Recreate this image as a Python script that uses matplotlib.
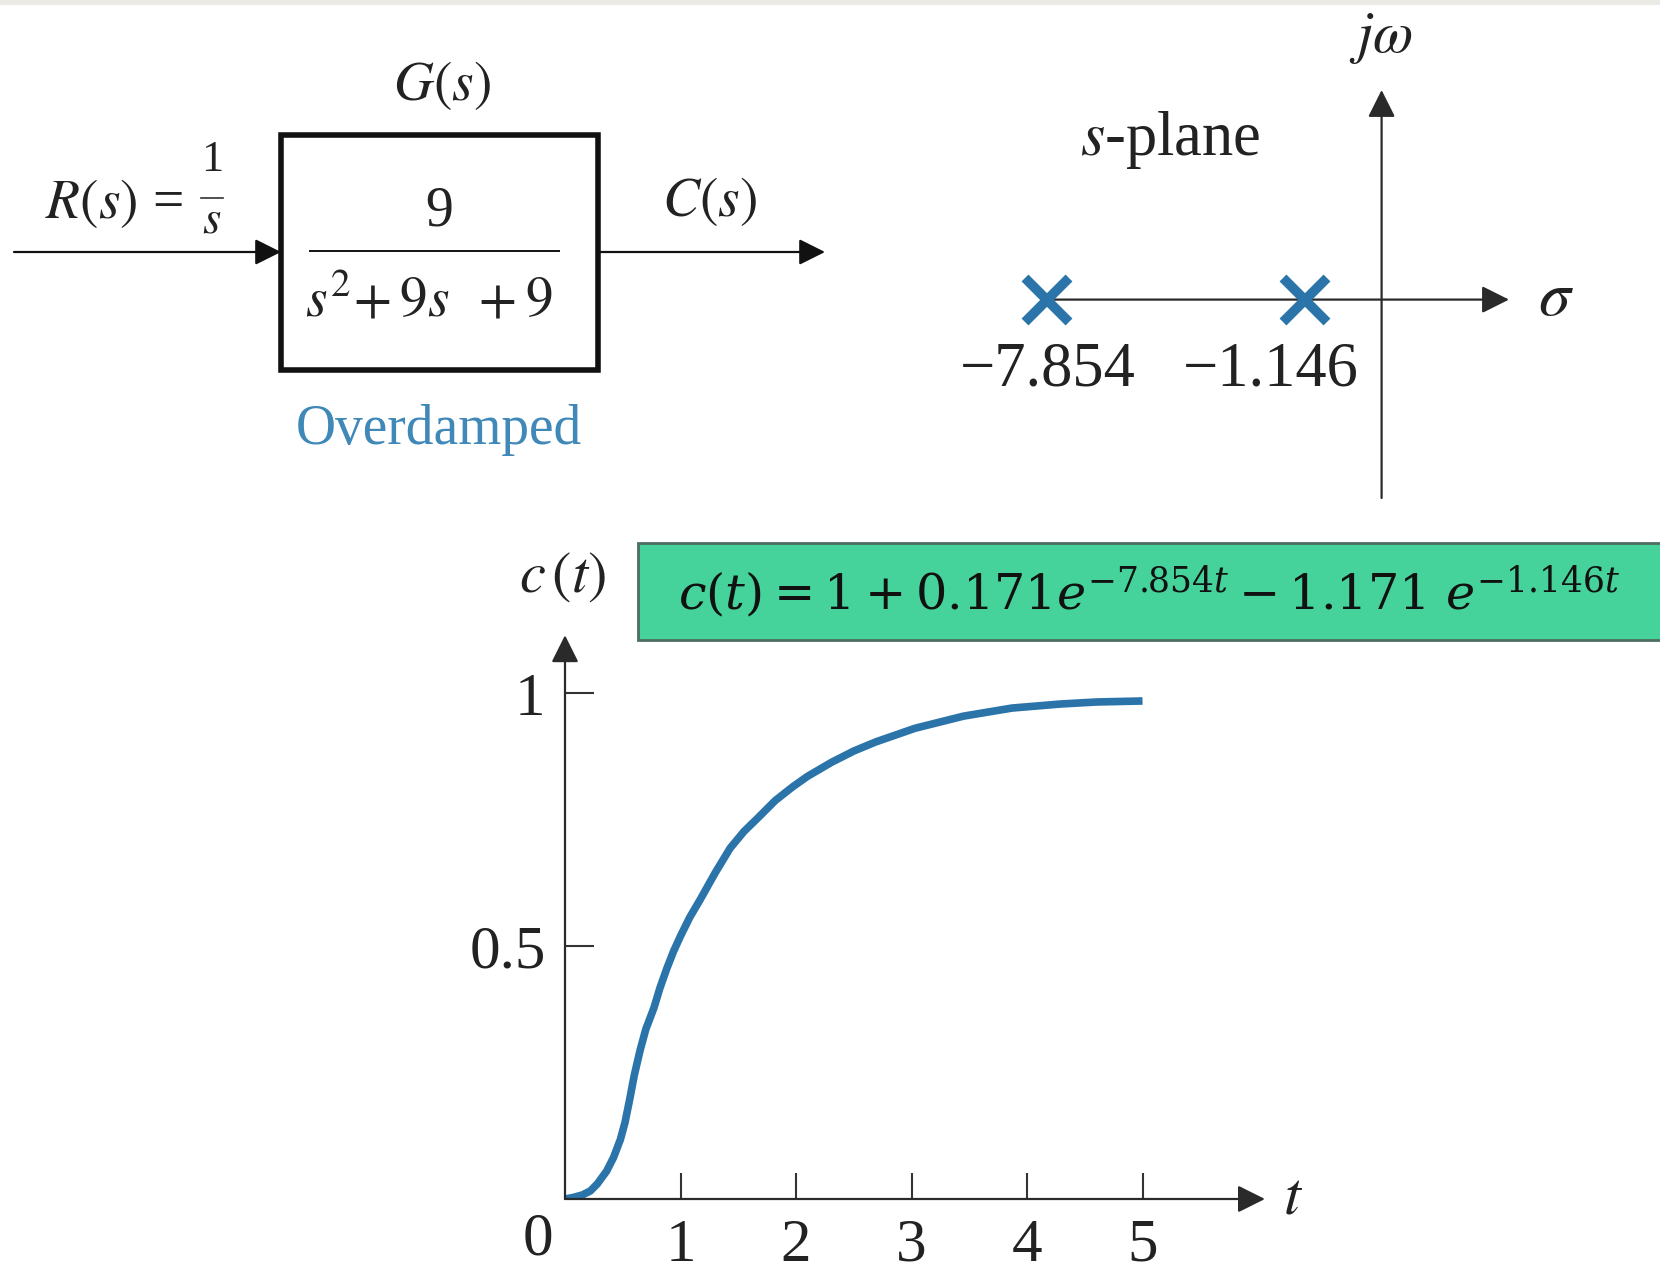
import matplotlib.pyplot as plt
from matplotlib.patches import Rectangle
import numpy as np

plt.rcParams['font.family'] = 'Liberation Serif'
plt.rcParams['mathtext.fontset'] = 'stix'

# step response
t_vals = [0, 0.07, 0.15, 0.22, 0.28, 0.36, 0.42, 0.48, 0.52, 0.56, 0.60, 0.65, 0.70,
          0.77, 0.82, 0.88, 0.94, 1.0, 1.08, 1.17, 1.3, 1.43, 1.55, 1.68, 1.82, 1.97,
          2.1, 2.31, 2.5, 2.69, 3.03, 3.45, 3.87, 4.29, 4.6, 5.0]
c_vals = [0, 0.003, 0.008, 0.016, 0.03, 0.055, 0.082, 0.118, 0.152, 0.197, 0.245, 0.294, 0.336,
          0.378, 0.416, 0.455, 0.49, 0.52, 0.557, 0.592, 0.645, 0.694, 0.727, 0.756, 0.788, 0.815,
          0.836, 0.864, 0.886, 0.904, 0.931, 0.955, 0.971, 0.979, 0.983, 0.985]
t_ticks = [1, 2, 3, 4, 5]
c_ticks = [0.5, 1]
c_ticklabels = ['0.5', '1']

# poles of G(s)
poles = [-7.854, -1.146]
pole_labels = ['\u22127.854', '\u22121.146']

W, H = 1660, 1275
blue = '#2a74aa'

fig = plt.figure(figsize=(W / 100, H / 100), dpi=100)
fig.patch.set_facecolor('white')

def box(l, t, r, b):
    # pixel box -> figure fraction
    return [l / W, (H - b) / H, (r - l) / W, (b - t) / H]

# overlay in pixel coords for the block diagram and labels
bg = fig.add_axes([0, 0, 1, 1])
bg.set_xlim(0, W)
bg.set_ylim(H, 0)
bg.axis('off')
bg.add_patch(Rectangle((0, 0), W, 5, color='#eceae4', lw=0))

# block diagram
bg.add_patch(Rectangle((281, 135), 317, 235, fill=False, lw=4, ec='#111111'))
arr = dict(arrowstyle='-|>', mutation_scale=40, lw=1.6, color='#111111', shrinkA=0, shrinkB=0)
bg.annotate('', xy=(281, 252), xytext=(14, 252), arrowprops=arr)
bg.annotate('', xy=(825, 252), xytext=(598, 252), arrowprops=arr)
bg.plot([310, 559], [251, 251], color='#111111', lw=1.4)
bg.text(442, 85, r'$G(s)$', fontsize=40, ha='center', va='center', color='#222')
bg.text(183, 204, r'$R(s)$ =', fontsize=40, ha='right', va='center', color='#222')
bg.text(212, 160, '1', fontsize=32, ha='center', va='center', color='#222')
bg.plot([201, 223], [198, 198], color='#333', lw=1.2)
bg.text(212, 221, r'$s$', fontsize=34, ha='center', va='center', color='#222')
bg.text(439, 212, '9', fontsize=40, ha='center', va='center', color='#222')
bg.text(429, 302, r'$s^{2}\!+9s\;\;+9$', fontsize=40, ha='center', va='center', color='#222')
bg.text(709, 201, r'$C(s)$', fontsize=40, ha='center', va='center', color='#222')
bg.text(439, 430, 'Overdamped', fontsize=40, ha='center', va='center', color='#3f88b8')

# equation banner
bg.add_patch(Rectangle((638, 543), 1030, 97, fc='#45d29b', ec='#4d6e62', lw=2))
bg.text(678, 592, r'$c(t) = 1 + 0.171e^{-7.854t} - 1.171\ e^{-1.146t}$',
        fontsize=35.5, ha='left', va='center', color='#111', math_fontfamily='dejavuserif')

# s-plane, pole positions through a compressed function scale
p = 0.768
fwd = lambda x: np.sign(x) * np.abs(x) ** p
inv = lambda x: np.sign(x) * np.abs(x) ** (1 / p)
x0, k = 1381.6, 68.63
sl, sr, st, sb = 990, 1530, 80, 500
sp = fig.add_axes(box(sl, st, sr, sb))
sp.set_xscale('function', functions=(fwd, inv))
sp.set_xlim(inv((sl - x0) / k), inv((sr - x0) / k))
sp.set_ylim(-(sb - 299.6), 299.6 - st)
sp.axis('off')
sp.patch.set_alpha(0)
ax_arr = dict(arrowstyle='-|>', mutation_scale=42, lw=1.6, color='#2a2a2a', shrinkA=0, shrinkB=0)
sp.annotate('', xy=(inv((1509 - x0) / k), 0), xytext=(min(poles), 0), arrowprops=ax_arr)
sp.annotate('', xy=(0, 299.6 - 90), xytext=(0, 299.6 - 498), arrowprops=ax_arr)
sp.plot(poles, [0, 0], 'x', color=blue, ms=32, mew=7, zorder=5)
for xv, lab, dx in zip(poles, pole_labels, [0, -25]):
    sp.annotate(lab, xy=(xv, -71), xytext=(dx, 0), textcoords='offset points',
                fontsize=45, ha='center', va='center', color='#222')
bg.text(1170, 140, r'$s$-plane', fontsize=45, ha='center', va='center', color='#222')
bg.text(1381, 38, r'$j\omega$', fontsize=42, ha='center', va='center', color='#222')
bg.text(1556, 300, r'$\sigma$', fontsize=46, ha='center', va='center', color='#222')

# step response
ox, oy, ut, uc = 565, 1199, 115.5, 505.6
xmax, ymax = 6.06, 1.115
ax = fig.add_axes(box(ox, oy - ymax * uc, ox + xmax * ut, oy))
ax.patch.set_alpha(0)
ax.set_xlim(0, xmax)
ax.set_ylim(0, ymax)
for s in ax.spines.values():
    s.set_visible(False)
ax.plot(t_vals, c_vals, color=blue, lw=5.5, solid_capstyle='butt', solid_joinstyle='round')
ax.annotate('', xy=(xmax, 0), xytext=(0, 0), arrowprops=ax_arr, annotation_clip=False)
ax.annotate('', xy=(0, ymax), xytext=(0, 0), arrowprops=ax_arr, annotation_clip=False)
ax.set_xticks(t_ticks)
ax.set_xticklabels([str(v) for v in t_ticks])
ax.set_yticks(c_ticks)
ax.set_yticklabels(c_ticklabels)
ax.tick_params(axis='x', direction='in', length=19, width=1.5, color='#333',
               labelsize=44, pad=14, labelcolor='#222')
ax.tick_params(axis='y', direction='in', length=21, width=1.5, color='#333',
               labelsize=44, pad=14, labelcolor='#222')
ax.text(-0.23, -0.08, '0', fontsize=44, ha='center', va='center', color='#222')
ax.text(6.3, 0.0, r'$t$', fontsize=44, ha='center', va='center', color='#222')
ax.text(-0.02, 1.23, r'$c\,(t)$', fontsize=42, ha='center', va='center', color='#222')

fig.savefig('out.png', dpi=100)
